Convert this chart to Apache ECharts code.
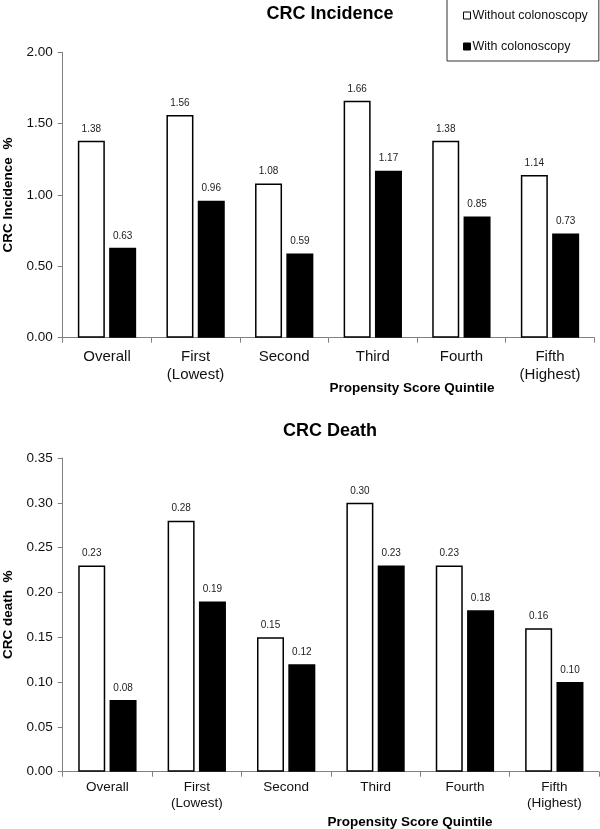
<!DOCTYPE html>
<html>
<head>
<meta charset="utf-8">
<script src="https://cdn.jsdelivr.net/npm/echarts@6/dist/echarts.min.js"></script>
<style>
  html, body { margin: 0; padding: 0; background: #fff; }
  #main { width: 600px; height: 829px; }
</style>
</head>
<body>
<div id="main"></div>
<script>
// data
const categories = ['Overall', 'First\n(Lowest)', 'Second', 'Third', 'Fourth', 'Fifth\n(Highest)'];
const incidenceWithout = [1.38, 1.56, 1.08, 1.66, 1.38, 1.14];
const incidenceWith = [0.63, 0.96, 0.59, 1.17, 0.85, 0.73];
const deathWithout = [0.23, 0.28, 0.15, 0.30, 0.23, 0.16];
const deathWith = [0.08, 0.19, 0.12, 0.23, 0.18, 0.10];
const seriesNames = ['Without colonoscopy', 'With colonoscopy'];

const FONT = '"Liberation Sans", Arial, Helvetica, sans-serif';
const chart = echarts.init(document.getElementById('main'), null, { renderer: 'canvas' });

function fmt2(v) {
  return Number(v).toFixed(2);
}

// one bar series; white = outlined bar, black = filled bar
function barSeries(name, data, axisIdx, filled) {
  return {
    type: 'bar',
    name: name,
    data: data,
    xAxisIndex: axisIdx,
    yAxisIndex: axisIdx,
    barWidth: 27,
    barGap: '16%',
    itemStyle: {
      color: filled ? '#000' : '#fff',
      borderColor: '#000',
      borderWidth: 1.5
    },
    label: {
      show: true,
      position: 'top',
      distance: 7,
      fontSize: 10,
      fontFamily: FONT,
      color: '#222',
      formatter: function (p) { return fmt2(p.value); }
    },
    emphasis: { disabled: true },
    animation: false
  };
}

function xAxisCfg(idx, fs, lh, margin) {
  return {
    type: 'category',
    gridIndex: idx,
    data: categories,
    axisLine: { lineStyle: { color: '#808080', width: 1 } },
    axisTick: { show: true, length: 5, lineStyle: { color: '#808080' } },
    axisLabel: {
      interval: 0,
      margin: margin,
      fontSize: fs,
      lineHeight: lh,
      fontFamily: FONT,
      color: '#111'
    }
  };
}

function yAxisCfg(idx, name, max, step) {
  return {
    type: 'value',
    gridIndex: idx,
    min: 0,
    max: max,
    interval: step,
    name: name,
    nameLocation: 'middle',
    nameRotate: 90,
    nameGap: 47,
    nameTextStyle: { fontSize: 13.5, fontWeight: 'bold', fontFamily: FONT, color: '#000' },
    axisLine: { show: true, lineStyle: { color: '#808080', width: 1 } },
    axisTick: { show: true, length: 5, lineStyle: { color: '#808080' } },
    splitLine: { show: false },
    axisLabel: {
      margin: 10,
      fontSize: 13.5,
      fontFamily: FONT,
      color: '#111',
      formatter: function (v) { return fmt2(v); }
    }
  };
}

const option = {
  backgroundColor: '#fff',
  animation: false,
  title: [
    {
      text: 'CRC Incidence', left: 330, top: 5, textAlign: 'center', padding: 0,
      textStyle: { fontSize: 18, fontWeight: 'bold', fontFamily: FONT, color: '#000' }
    },
    {
      text: 'CRC Death', left: 330, top: 422, textAlign: 'center', padding: 0,
      textStyle: { fontSize: 18, fontWeight: 'bold', fontFamily: FONT, color: '#000' }
    }
  ],
  legend: {
    data: seriesNames,
    orient: 'vertical',
    left: 447,
    top: -1,
    padding: [10, 11, 8, 16],
    itemGap: 18,
    itemWidth: 7,
    itemHeight: 7,
    icon: 'rect',
    borderColor: '#333',
    borderWidth: 1,
    selectedMode: false,
    itemStyle: { borderWidth: 1 },
    textStyle: { fontSize: 12.5, fontFamily: FONT, color: '#111', padding: [0, 0, 0, -3] }
  },
  grid: [
    { left: 62.7, right: 5.7, top: 52.3, bottom: 491.3, containLabel: false, outerBoundsMode: 'none' },
    { left: 62.7, right: 1, top: 458, bottom: 57.3, containLabel: false, outerBoundsMode: 'none' }
  ],
  xAxis: [
    xAxisCfg(0, 15, 18, 10),
    xAxisCfg(1, 13.5, 16.5, 7)
  ],
  yAxis: [
    yAxisCfg(0, 'CRC Incidence  %', 2, 0.5),
    yAxisCfg(1, 'CRC death  %', 0.35, 0.05)
  ],
  graphic: [
    {
      type: 'text', x: 412, y: 388,
      style: {
        text: 'Propensity Score Quintile', font: 'bold 13.5px ' + FONT,
        fill: '#000', textAlign: 'center', textVerticalAlign: 'middle'
      }
    },
    {
      type: 'text', x: 410, y: 822,
      style: {
        text: 'Propensity Score Quintile', font: 'bold 13.5px ' + FONT,
        fill: '#000', textAlign: 'center', textVerticalAlign: 'middle'
      }
    }
  ],
  series: [
    barSeries(seriesNames[0], incidenceWithout, 0, false),
    barSeries(seriesNames[1], incidenceWith, 0, true),
    barSeries(seriesNames[0], deathWithout, 1, false),
    barSeries(seriesNames[1], deathWith, 1, true)
  ]
};

chart.setOption(option);
window.onresize = chart.resize;
</script>
</body>
</html>
